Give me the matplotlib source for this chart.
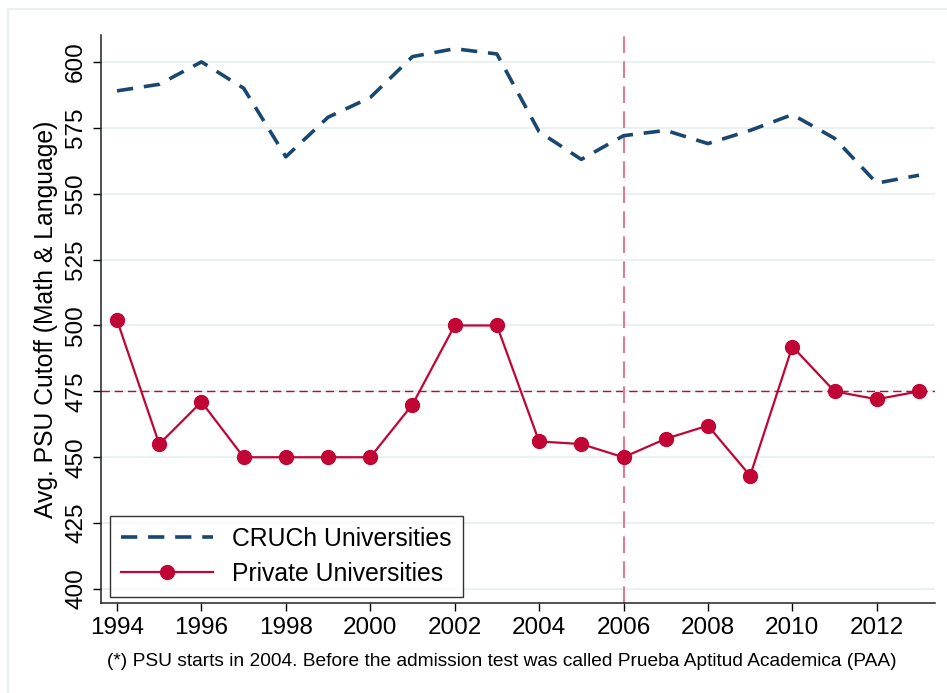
import matplotlib
matplotlib.use("Agg")
import matplotlib.pyplot as plt
from matplotlib.patches import Rectangle

years = list(range(1994, 2014))
cruch = [589, 591.5, 600, 590, 564, 579, 586.5, 602, 605, 603, 573.5, 563, 572, 574, 569, 574, 580, 571, 554, 557]
private = [502, 455, 471, 450, 450, 450, 450, 470, 500, 500, 456, 455, 450, 457, 462, 443, 492, 475, 472, 475]
yticks = [400, 425, 450, 475, 500, 525, 550, 575, 600]
xticks = list(range(1994, 2014, 2))
ref_level = 475
ref_year = 2006
footnote = '(*) PSU starts in 2004. Before the admission test was called Prueba Aptitud Academica (PAA)'

plt.rcParams['font.family'] = ['Liberation Sans', 'DejaVu Sans']

fig = plt.figure(figsize=(9.47, 6.93), dpi=100)
fig.patch.set_facecolor('white')
# light outer frame (only left and top edges visible)
fig.patches.append(Rectangle((8/947, -0.1), 1.2, 1 - 9/693 + 0.1, transform=fig.transFigure,
                             fill=False, edgecolor='#eaf0f2', linewidth=1.5))

ax = fig.add_axes([101/947, 1 - 603/693, (935 - 101)/947, (603 - 35)/693])

ax.set_axisbelow(True)
for t in yticks:
    ax.axhline(t, color='#eaf1f3', linewidth=1.5, zorder=0)

ax.plot(years, cruch, color='#1a476f', linestyle=(0, (4.5, 3)), linewidth=2.6,
        label='CRUCh Universities', zorder=3)
ax.plot(years, private, color='#c10534', linewidth=1.6, marker='o', markersize=10,
        label='Private Universities', zorder=3)
ax.axhline(ref_level, color='#c10534', linestyle=(0, (6, 3.5)), linewidth=1.0, zorder=2)
ax.axvline(ref_year, color='#e07a95', linestyle=(0, (8, 4)), linewidth=1.5, zorder=2)

ax.set_xlim(1993.62, 2013.38)
ax.set_ylim(394.7, 610.2)
ax.set_xticks(xticks)
ax.set_yticks(yticks)
ax.set_xticklabels([str(x) for x in xticks], fontsize=17.5)
ax.set_yticklabels([str(y) for y in yticks], fontsize=17.5, rotation=90, va='center')
ax.tick_params(axis='both', direction='out', length=6, width=1, color='black', pad=4)

for s in ['top', 'right']:
    ax.spines[s].set_visible(False)
for s in ['left', 'bottom']:
    ax.spines[s].set_linewidth(1.1)
    ax.spines[s].set_color('#222222')

ax.set_ylabel('Avg. PSU Cutoff (Math & Language)', fontsize=17.8, labelpad=5)
fig.text(502/947, 1 - 662/693, footnote, fontsize=13.8, ha='center', va='center')

leg = ax.legend(loc='lower left', bbox_to_anchor=(110/947, 1 - 597/693), bbox_transform=fig.transFigure,
                fontsize=17.8, frameon=True, fancybox=False, edgecolor='black', handlelength=3.7,
                borderpad=0.45, labelspacing=0.45, handletextpad=0.8, borderaxespad=0)
leg.get_frame().set_linewidth(1.0)

fig.savefig('out.png', dpi=100, facecolor='white')
